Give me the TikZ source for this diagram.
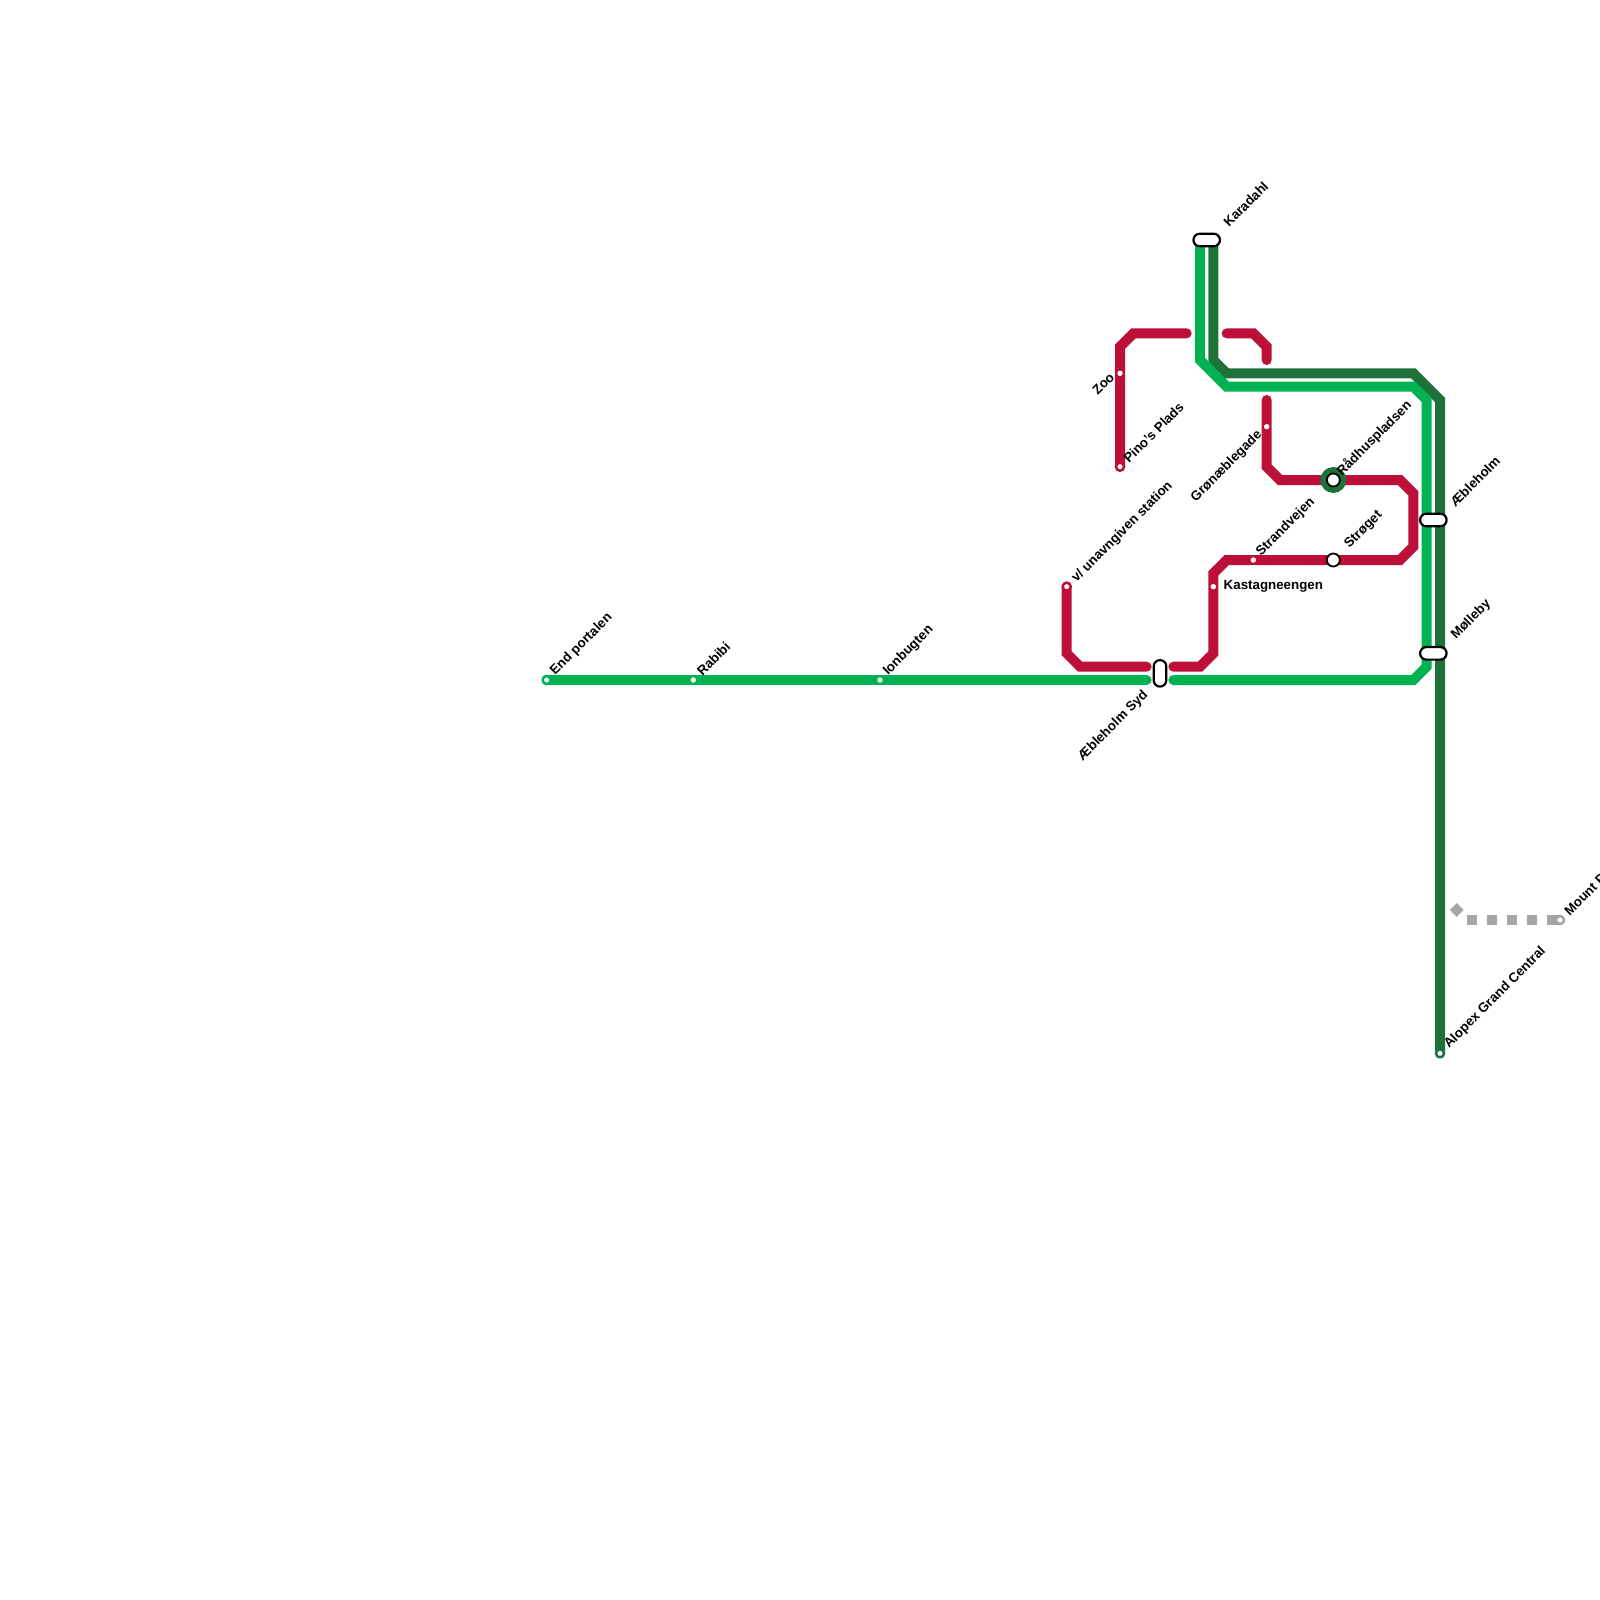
\documentclass[tikz,border=0pt]{standalone}
\usepackage{fontspec}
\usetikzlibrary{shapes.geometric}
\setmainfont{Liberation Sans}[BoldFont={Liberation Sans Bold}]
\definecolor{lg}{HTML}{00B251}
\definecolor{dg}{HTML}{1E7138}
\definecolor{rd}{HTML}{BD1038}
\definecolor{gy}{HTML}{A5A5A5}
\tikzset{
  x=1pt,y=-1pt,
  lineseg/.style={line width=10pt,line cap=round,line join=miter},
  lbl/.style={font=\bfseries\fontsize{13.33}{15}\selectfont,text=black,inner sep=0pt,rotate=45,anchor=west},
  lblr/.style={font=\bfseries\fontsize{13.33}{15}\selectfont,text=black,inner sep=0pt,rotate=45,anchor=east},
  dotst/.style={circle,fill=white,inner sep=0pt,minimum size=5.4pt},
  termst/.style={circle,fill=white,draw=#1,line width=2.5pt,inner sep=0pt,minimum size=8pt},
  pillh/.style={rectangle,rounded corners=6.3pt,draw=black,line width=2.2pt,fill=white,inner sep=0pt,minimum width=26.5pt,minimum height=12.6pt},
  pillv/.style={rectangle,rounded corners=6.3pt,draw=black,line width=2.2pt,fill=white,inner sep=0pt,minimum width=12.6pt,minimum height=26.5pt},
  bigst/.style={circle,draw=black,line width=1.8pt,fill=white,inner sep=0pt,minimum size=13pt},
}
\begin{document}
\begin{tikzpicture}
\useasboundingbox (0,0) rectangle (1600,1600);
% coordinates
\coordinate (gA) at (546.67,680);
\coordinate (gB) at (1146.67,680);
\coordinate (gC) at (1173.33,680);
\coordinate (kT) at (1200,240);
\coordinate (dT) at (1213.33,240);
\coordinate (dE) at (1440,1053.33);
\coordinate (r1a) at (1120,466.67);
\coordinate (r1b) at (1186.67,333.33);
\coordinate (r2a) at (1226.67,333.33);
\coordinate (r2b) at (1266.67,360);
\coordinate (r3a) at (1266.67,400);
\coordinate (r3b) at (1173.33,666.67);
\coordinate (r4a) at (1146.67,666.67);
\coordinate (r4b) at (1066.67,586.67);
\coordinate (gyA) at (1466.67,920);
\coordinate (gyB) at (1560,920);
% lines
\draw[lineseg,dg,line cap=butt] (dT) -- (1213.33,360) -- (1226.67,373.33) -- (1413.33,373.33) -- (1440,400) -- (dE);
\draw[lineseg,lg,line cap=butt] (kT) -- (1200,360) -- (1226.67,386.67) -- (1413.33,386.67) -- (1426.67,400) -- (1426.67,666.67) -- (1413.33,680) -- (gC);
\fill[lg] (gC) circle (5pt);
\draw[lineseg,lg] (gA) -- (gB);
\draw[lineseg,rd] (r1a) -- (1120,346.67) -- (1133.33,333.33) -- (r1b);
\draw[lineseg,rd] (r2a) -- (1253.33,333.33) -- (1266.67,346.67) -- (r2b);
\draw[lineseg,rd] (r3a) -- (1266.67,466.67) -- (1280,480) -- (1400,480) -- (1413.33,493.33) -- (1413.33,546.67) -- (1400,560) -- (1226.67,560) -- (1213.33,573.33) -- (1213.33,653.33) -- (1200,666.67) -- (r3b);
\draw[lineseg,rd] (r4a) -- (1080,666.67) -- (1066.67,653.33) -- (r4b);
\draw[line width=10pt,gy,dash pattern=on 10pt off 10pt] (gyA) -- (1546.67,920);
\draw[line width=10pt,gy] (1546.67,920) -- (gyB);
\node[diamond,fill=gy,inner sep=0pt,minimum size=14pt] (dia) at (1456.67,910) {};
% stations
\node[termst=lg] (sEnd) at (gA) {};
\node[dotst] (sRab) at (693.33,680) {};
\node[dotst] (sIon) at (880,680) {};
\node[dotst] (sZoo) at (1120,373.33) {};
\node[termst=rd] (sPin) at (r1a) {};
\node[dotst] (sGro) at (1266.67,426.67) {};
\node[dotst] (sStr) at (1253.33,560) {};
\node[dotst] (sKas) at (1213.33,586.67) {};
\node[termst=rd] (sUna) at (r4b) {};
\node[termst=dg] (sAlo) at (dE) {};
\node[termst=gy] (sMou) at (gyB) {};
\node[circle,fill=dg,inner sep=0pt,minimum size=26pt] (sRadR) at (1333.33,480) {};
\node[bigst] (sRad) at (1333.33,480) {};
\node[bigst] (sStg) at (1333.33,560) {};
\node[pillh] (sKar) at (1206.67,240) {};
\node[pillh] (sAeb) at (1433.33,520) {};
\node[pillh] (sMol) at (1433.33,653.33) {};
\node[pillv] (sSyd) at (1160,673.33) {};
% labels
\node[lbl] at (552.5,673.5) {End portalen};
\node[lbl] at (699,673.5) {Rabibi};
\node[lbl] at (885.5,673.5) {Ionbugten};
\node[lblr] at (1112,375) {Zoo};
\node[lbl] at (1125.5,460.5) {Pino's Plads};
\node[lblr] at (1260,433) {Grønæblegade};
\node[lbl] at (1258.5,554.5) {Strandvejen};
\node[lbl] at (1074,580.5) {v/ unavngiven station};
\node[lbl] at (1347,546.5) {Strøget};
\node[lbl] at (1339,473.5) {Rådhuspladsen};
\node[lbl] at (1225.5,224.5) {Karadahl};
\node[lbl] at (1452,504.5) {Æbleholm};
\node[lbl] at (1453.5,637.5) {Mølleby};
\node[lblr] at (1146,693) {Æbleholm Syd};
\node[lbl] at (1446.5,1046.5) {Alopex Grand Central};
\node[lbl] at (1566.5,913.5) {Mount P};
\node[font=\bfseries\fontsize{13.33}{15}\selectfont,inner sep=0pt,anchor=west] at (1223.5,586.5) {Kastagneengen};
\end{tikzpicture}
\end{document}
